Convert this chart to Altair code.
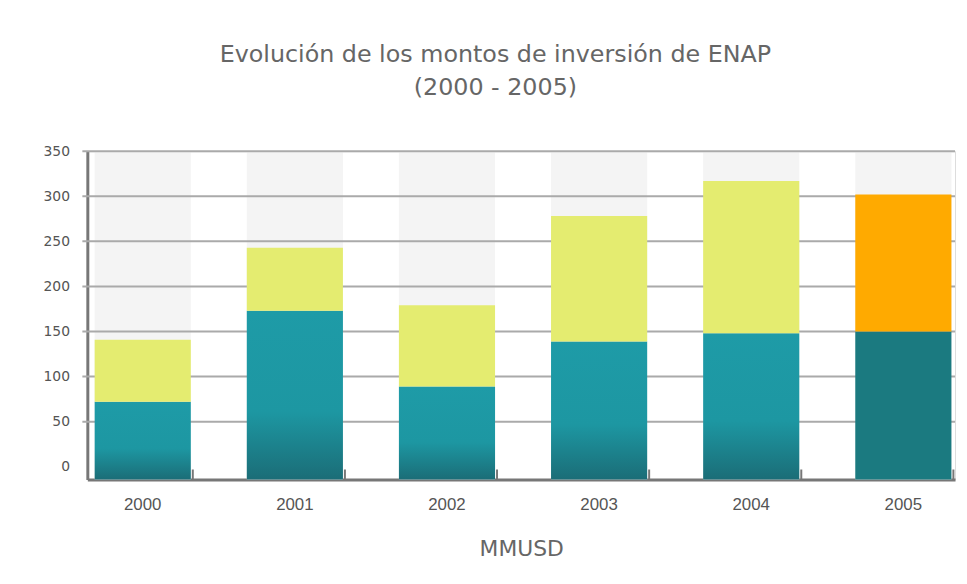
import altair as alt
import pandas as pd

# ---- data ----
years = ["2000", "2001", "2002", "2003", "2004", "2005"]
base_values = [72, 173, 89, 139, 148, 150]      # lower (teal) segment, MMUSD
upper_values = [69, 70, 90, 139, 169, 152]      # upper (yellow / orange) segment, MMUSD
segment_kind = ["real", "real", "real", "real", "real", "proyectado"]
y_ticks = [0, 50, 100, 150, 200, 250, 300, 350]
grid_values = [50, 100, 150, 200, 250, 300, 350]

Y_MAX = 350
Y_FLOOR = -14
W, H = 875, 331

rows = []
for yr, b, u, k in zip(years, base_values, upper_values, segment_kind):
    rows.append({"year": yr, "start": Y_FLOOR, "end": b, "part": "base_" + k})
    rows.append({"year": yr, "start": b, "end": b + u, "part": "upper_" + k})
df = pd.DataFrame(rows)
df_years = pd.DataFrame({"year": years})
df_grid = pd.DataFrame({"v": grid_values})

x_scale = alt.Scale(paddingInner=0.368, paddingOuter=0.036, align=0.67)
y_scale = alt.Scale(domain=[Y_FLOOR, Y_MAX], nice=False, zero=False)

x_axis = alt.Axis(
    title="MMUSD", labelAngle=0, ticks=False, tickSize=0, labelPadding=17,
    domainColor="#777777", domainWidth=3, labelFont="Liberation Sans",
    labelFontSize=17, labelColor="#555555", titleFont="DejaVu Sans",
    titleFontSize=22, titleColor="#666666", titleFontWeight="normal",
    titlePadding=27, grid=False,
)
y_axis = alt.Axis(
    title=None, values=y_ticks, ticks=False, tickSize=0, labelPadding=18,
    domainColor="#777777", domainWidth=3, labelFont="DejaVu Sans",
    labelFontSize=14, labelColor="#555555", grid=False,
)

background = alt.Chart(df_years).mark_bar(color="#f4f4f4").encode(
    x=alt.X("year:N", scale=x_scale, axis=x_axis),
    y=alt.datum(Y_MAX, scale=y_scale, axis=y_axis),
    y2=alt.datum(Y_FLOOR),
)

grid = alt.Chart(df_grid).mark_rule(color="#aaaaaa", strokeWidth=2).encode(
    y=alt.Y("v:Q"),
    x=alt.value(-5),
    x2=alt.value(W),
)

teal_gradient = alt.Gradient(
    gradient="linear",
    stops=[
        alt.GradientStop(color="#1e9ba7", offset=0),
        alt.GradientStop(color="#1d97a2", offset=0.6),
        alt.GradientStop(color="#1b6d77", offset=1),
    ],
    x1=0, x2=0, y1=0, y2=1,
)

base_real = alt.Chart(df).transform_filter(
    alt.datum.part == "base_real"
).mark_bar(color=teal_gradient).encode(
    x=alt.X("year:N"),
    y=alt.Y("end:Q"),
    y2="start:Q",
)

flat = alt.Chart(df).transform_filter(
    alt.datum.part != "base_real"
).mark_bar().encode(
    x=alt.X("year:N"),
    y=alt.Y("end:Q"),
    y2="start:Q",
    color=alt.Color(
        "part:N",
        scale=alt.Scale(
            domain=["upper_real", "base_proyectado", "upper_proyectado"],
            range=["#e4ec70", "#1b7a80", "#ffaa00"],
        ),
        legend=None,
    ),
)

xticks = alt.Chart(df_years).mark_rule(color="#777777", strokeWidth=2, xOffset=2).encode(
    x=alt.X("year:N", bandPosition=1),
    y=alt.value(H - 10),
    y2=alt.value(H),
)

chart = alt.layer(background, grid, base_real, flat, xticks).properties(
    width=W,
    height=H,
    title=alt.TitleParams(
        text=["Evolución de los montos de inversión de ENAP", "(2000 - 2005)"],
        font="DejaVu Sans", fontSize=24, fontWeight="normal", color="#666666",
        lineHeight=33, anchor="middle", offset=45, dx=-26,
    ),
    autosize=alt.AutoSizeParams(type="none"),
    padding={"left": 80, "top": 142, "right": 4, "bottom": 92},
).configure_view(stroke=None).configure(background="white")

chart.save("out.html", embed_options={"renderer": "svg", "actions": False})
